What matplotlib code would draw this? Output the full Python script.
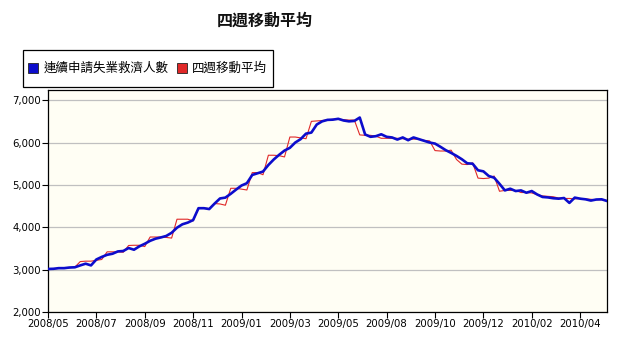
import matplotlib
matplotlib.use("Agg")
import matplotlib.pyplot as plt
from matplotlib.lines import Line2D
from matplotlib.patches import Rectangle

plt.rcParams['font.family'] = ['Noto Sans CJK TC', 'DejaVu Sans']

title = "四週移動平均"
series_names = ["連續申請失業救濟人數", "四週移動平均"]
tick_labels = ["2008/05", "2008/07", "2008/09", "2008/11", "2009/01", "2009/03",
               "2009/05", "2009/08", "2009/10", "2009/12", "2010/02", "2010/04"]
tick_step = 9  # weeks between labels

claims = [3016, 3020, 3035, 3035, 3050, 3055, 3100, 3140, 3100, 3240,
          3300, 3350, 3375, 3430, 3440, 3510, 3470, 3550, 3610, 3680,
          3730, 3760, 3795, 3870, 3990, 4070, 4110, 4170, 4450, 4450,
          4430, 4560, 4680, 4700, 4790, 4890, 4985, 5040, 5235, 5275,
          5315, 5470, 5600, 5710, 5810, 5875, 6000, 6080, 6210, 6235,
          6425, 6500, 6535, 6540, 6560, 6520, 6500, 6510, 6590, 6190,
          6135, 6150, 6195, 6135, 6120, 6070, 6120, 6055, 6120, 6080,
          6040, 6000, 5975, 5900, 5820, 5755, 5685, 5605, 5510, 5500,
          5345, 5320, 5210, 5170, 5025, 4870, 4910, 4855, 4870, 4815,
          4855, 4775, 4715, 4705, 4685, 4675, 4690, 4575, 4700, 4675,
          4660, 4630, 4655, 4660, 4620]

avg4 = [3010, 3020, 3030, 3035, 3045, 3060, 3190, 3200, 3200, 3220,
        3240, 3420, 3420, 3420, 3410, 3570, 3575, 3575, 3545, 3770,
        3770, 3770, 3760, 3745, 4190, 4190, 4190, 4150, 4450, 4450,
        4440, 4560, 4550, 4520, 4920, 4920, 4900, 4880, 5290, 5290,
        5240, 5700, 5700, 5690, 5660, 6130, 6130, 6110, 6090, 6500,
        6510, 6520, 6530, 6550, 6550, 6540, 6530, 6530, 6180, 6170,
        6170, 6150, 6100, 6100, 6100, 6100, 6090, 6080, 6080, 6080,
        6050, 6040, 5810, 5800, 5800, 5820, 5600, 5490, 5480, 5520,
        5160, 5150, 5160, 5210, 4850, 4870, 4870, 4870, 4820, 4820,
        4810, 4770, 4740, 4730, 4720, 4690, 4680, 4680, 4670, 4680,
        4670, 4660, 4650, 4650, 4630]

blue = "#0C0CCC"
red = "#E02828"

W, H = 625, 338
fig = plt.figure(figsize=(W / 100, H / 100), dpi=100)
fig.patch.set_facecolor("white")
ax = fig.add_axes([48/W, 26/H, 559/W, 222/H])
ax.set_facecolor("#FFFEF4")

x = list(range(len(claims)))
ax.plot(x, avg4, color=red, lw=0.8, zorder=3)
ax.plot(x, claims, color=blue, lw=1.9, zorder=4)

ax.set_xlim(0, len(claims) - 1)
ax.set_ylim(2000, 7240)
ax.set_yticks([2000, 3000, 4000, 5000, 6000, 7000])
ax.set_yticklabels([f"{v:,}" for v in [2000, 3000, 4000, 5000, 6000, 7000]],
                   family="DejaVu Sans", fontsize=7.3)
ax.set_xticks([i * tick_step for i in range(len(tick_labels))])
ax.set_xticklabels(tick_labels, family="DejaVu Sans", fontsize=7.3)
ax.tick_params(axis="both", direction="out", length=4, width=0.8, color="black", pad=1)
ax.yaxis.grid(True, color="#C0C0C0", lw=0.9)
ax.set_axisbelow(True)
for s in ax.spines.values():
    s.set_color("black")
    s.set_linewidth(0.9)

fig.text(264.5/W, 1 - 20.5/H, title, ha="center", va="center",
         fontsize=11.5, fontweight="bold", color="#111111")

# legend frame
fig.patches.append(Rectangle((23/W, 1 - 87/H), 250/W, 37/H, transform=fig.transFigure,
                             facecolor="white", edgecolor="black", lw=0.9, zorder=1))

handles = [Line2D([], [], ls="none", marker="s", markersize=6.5,
                  markerfacecolor=blue, markeredgecolor="#222222", markeredgewidth=0.6),
           Line2D([], [], ls="none", marker="s", markersize=6.5,
                  markerfacecolor=red, markeredgecolor="#222222", markeredgewidth=0.6)]
leg = fig.legend(handles, series_names, loc="center left",
                 bbox_to_anchor=(29/W, 1 - 68.5/H), ncol=2, fontsize=9,
                 frameon=False, handlelength=0.7, handletextpad=0.45,
                 columnspacing=0.7, borderpad=0, borderaxespad=0)

fig.savefig("out.png", dpi=100)
